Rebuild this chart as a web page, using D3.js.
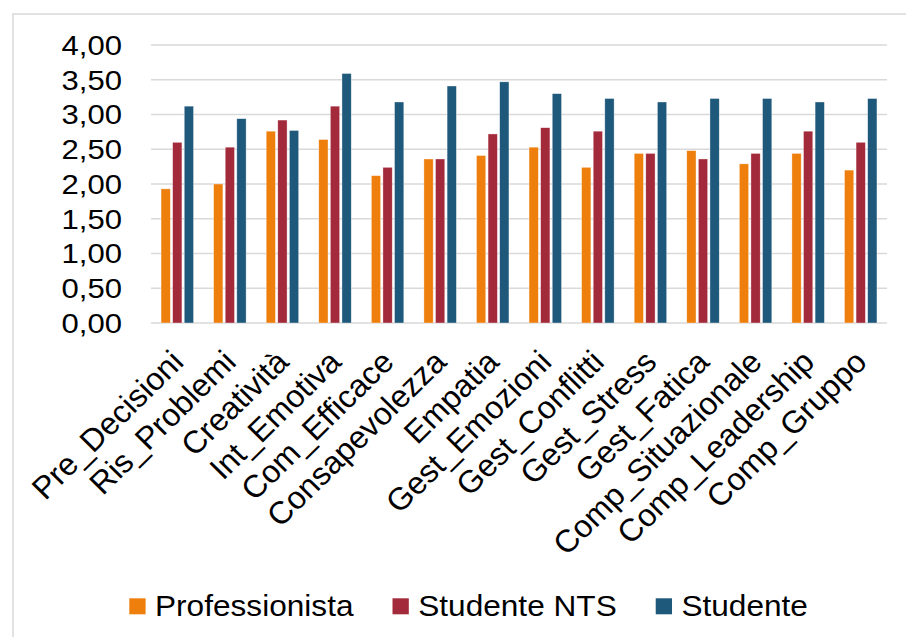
<!DOCTYPE html>
<meta charset="utf-8">
<style>
  body { margin: 0; background: #fff; }
  text { font-family: "Liberation Sans", Arial, sans-serif; fill: #000; }
</style>
<script src="https://d3js.org/d3.v7.min.js"></script>

<div id="my_dataviz"></div>
<script>

  var categories = ["Pre_Decisioni", "Ris_Problemi", "Creatività", "Int_Emotiva", "Com_Efficace",
    "Consapevolezza", "Empatia", "Gest_Emozioni", "Gest_Conflitti", "Gest_Stress",
    "Gest_Fatica", "Comp_Situazionale", "Comp_Leadership", "Comp_Gruppo"]
  var seriesNames = ["Professionista", "Studente NTS", "Studente"]
  var professionista = [1.93, 2.00, 2.76, 2.64, 2.12, 2.36, 2.41, 2.53, 2.24, 2.44, 2.48, 2.29, 2.44, 2.20]
  var studenteNTS = [2.60, 2.53, 2.92, 3.12, 2.24, 2.36, 2.72, 2.81, 2.76, 2.44, 2.36, 2.44, 2.76, 2.60]
  var studente = [3.12, 2.94, 2.77, 3.59, 3.18, 3.41, 3.47, 3.30, 3.23, 3.18, 3.23, 3.23, 3.18, 3.23]
  var yTicks = [0, 0.5, 1, 1.5, 2, 2.5, 3, 3.5, 4]

  var width = 906
      height = 637
      sx = 1.09   // the picture is a bit wider than tall, so text is stretched
      sxLabel = 1.02

  var colors = ["#ee7f0d", "#a22a3a", "#1e587b"]
  var allValues = [professionista, studenteNTS, studente]

  var svg = d3.select("#my_dataviz")
    .append("svg")
      .attr("width", width)
      .attr("height", height)

  // chart frame
  svg.append("path")
    .attr("d", "M13,637 V14 H906")
    .attr("fill", "none")
    .attr("stroke", "#d9d9d9")
    .attr("stroke-width", 1.5)

  var x0 = d3.scaleBand()
    .domain(categories)
    .range([151, 887])

  var groupW = 34.8
  var x1 = d3.scaleBand()
    .domain(seriesNames)
    .range([(x0.bandwidth() - groupW) / 2, (x0.bandwidth() + groupW) / 2])
    .paddingInner(0.2)
    .paddingOuter(0.1)

  var y = d3.scaleLinear()
    .domain([0, 4])
    .range([323, 45])

  // gridlines
  svg.append("g")
    .selectAll("line")
    .data(yTicks)
    .enter()
    .append("line")
      .attr("x1", 151)
      .attr("x2", 887)
      .attr("y1", function(d) { return y(d) })
      .attr("y2", function(d) { return y(d) })
      .attr("stroke", "#d9d9d9")
      .attr("stroke-width", 1.4)

  // y labels
  svg.append("g")
    .selectAll("text")
    .data(yTicks)
    .enter()
    .append("text")
      .attr("transform", function(d) { return "translate(122," + y(d) + ") scale(" + sx + ",1)" })
      .attr("dy", "0.35em")
      .attr("text-anchor", "end")
      .style("font-size", "28.5px")
      .text(function(d) { return d3.format(".2f")(d).replace(".", ",") })

  // bars
  var groups = svg.append("g")
    .selectAll("g")
    .data(categories)
    .enter()
    .append("g")
      .attr("transform", function(d) { return "translate(" + x0(d) + ",0)" })

  groups.selectAll("rect")
    .data(function(d, i) {
      return seriesNames.map(function(s, k) { return {key: s, value: allValues[k][i], k: k} })
    })
    .enter()
    .append("rect")
      .attr("x", function(d) { return x1(d.key) })
      .attr("width", x1.bandwidth())
      .attr("y", function(d) { return y(d.value) })
      .attr("height", function(d) { return y(0) - y(d.value) })
      .attr("fill", function(d) { return colors[d.k] })
      .attr("stroke", "#fff")
      .attr("stroke-opacity", 0.6)
      .attr("stroke-width", 0.6)

  // category labels, rotated
  svg.append("g")
    .selectAll("text")
    .data(categories)
    .enter()
    .append("text")
      .attr("transform", function(d) {
        return "translate(" + (x0(d) + x0.bandwidth() / 2) + ",356) scale(" + sxLabel + ",1) rotate(-45)"
      })
      .attr("dy", "0.35em")
      .attr("text-anchor", "end")
      .style("font-size", "31.5px")
      .text(function(d) { return d })

  // legend
  var legend = svg.append("g")
  var lx = 129.3
  seriesNames.forEach(function(name, k) {
    legend.append("rect")
      .attr("x", lx)
      .attr("y", 598.3)
      .attr("width", 16.3)
      .attr("height", 16)
      .attr("fill", colors[k])
    var t = legend.append("text")
      .attr("transform", "translate(" + (lx + 25.7) + ",616) scale(" + sx + ",1)")
      .style("font-size", "29px")
      .text(name)
    lx = lx + 25.7 + t.node().getComputedTextLength() * sx + 39
  })

</script>
